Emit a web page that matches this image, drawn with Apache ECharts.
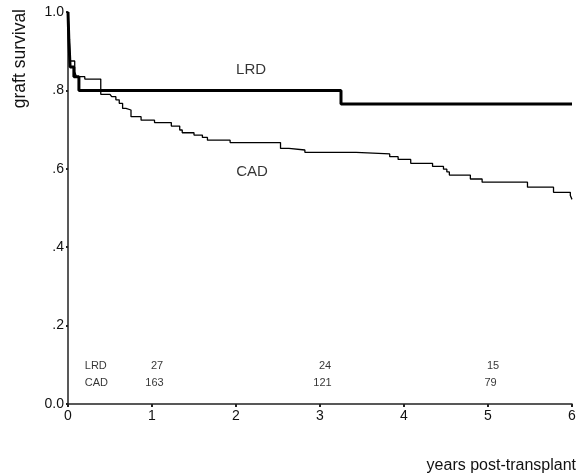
<!DOCTYPE html>
<html>
<head>
<meta charset="utf-8">
<script src="https://cdn.jsdelivr.net/npm/echarts@6/dist/echarts.min.js"></script>
<style>
html,body{margin:0;padding:0;background:#fff;}
#c{width:579px;height:475px;}
</style>
</head>
<body>
<div id="c"></div>
<script>
// Kaplan-Meier graft survival (year of event, survival after event)
var lrdCurve = [[0,1.0],[0.01,0.93],[0.025,0.86],[0.07,0.835],[0.13,0.80],[3.25,0.765],[6.0,0.765]];
var cadCurve = [[0,1.0],[0.015,0.93],[0.025,0.875],[0.08,0.848],[0.10,0.835],[0.2,0.829],[0.39,0.79],
  [0.5,0.788],[0.52,0.784],[0.57,0.776],[0.61,0.767],[0.65,0.754],[0.69,0.75],[0.75,0.733],
  [0.87,0.724],[1.03,0.718],[1.23,0.709],[1.33,0.699],[1.36,0.692],[1.50,0.686],[1.60,0.68],
  [1.66,0.673],[1.93,0.667],[2.53,0.652],[2.63,0.648],[2.82,0.642],[3.43,0.638],[3.83,0.631],
  [3.93,0.624],[4.08,0.614],[4.34,0.606],[4.47,0.599],[4.51,0.592],[4.54,0.584],[4.79,0.574],
  [4.93,0.566],[5.47,0.553],[5.78,0.54],[5.98,0.532],[6.0,0.522]];
var groups = ['LRD','CAD'];
var atRiskYears = [1,3,5];
var atRiskLRD = [27,24,15];
var atRiskCAD = [163,121,79];
var yTicks = ['0.0','.2','.4','.6','.8','1.0'];
var xTicks = ['0','1','2','3','4','5','6'];
var curveLabelPos = [[2.18,0.852],[2.19,0.593]];
var riskRowY = [0.097,0.054];
var riskRowLabelX = 0.2;

var font = 'Liberation Sans, Arial, sans-serif';
var chart = echarts.init(document.getElementById('c'));

function textSeries(data, size, align) {
  return {
    type:'scatter', symbolSize:0, silent:true, data:data,
    label:{show:true, position:'inside', formatter:function(p){return p.data.t;},
      color:'#000', fontFamily:font, fontSize:size, align:align||'center', verticalAlign:'middle'}
  };
}

var riskData = [];
riskData.push({value:[riskRowLabelX, riskRowY[0]], t:groups[0]});
riskData.push({value:[riskRowLabelX, riskRowY[1]], t:groups[1]});
var riskNums = [];
atRiskYears.forEach(function(y,i){
  riskNums.push({value:[y+0.06, riskRowY[0]], t:String(atRiskLRD[i])});
  riskNums.push({value:[y+0.03, riskRowY[1]], t:String(atRiskCAD[i])});
});
var curveLabels = groups.map(function(g,i){return {value:curveLabelPos[i], t:g};});

chart.setOption({
  animation:false,
  grid:{left:68, right:4, top:12, bottom:71},
  xAxis:{type:'value', min:0, max:6, interval:1,
    axisLine:{onZero:false, lineStyle:{color:'#222', width:1.5}},
    axisTick:{show:true, length:3, lineStyle:{color:'#222', width:2}},
    axisLabel:{color:'#111', fontSize:14, fontFamily:font, margin:5,
      formatter:function(v){return xTicks[Math.round(v)];}},
    splitLine:{show:false},
    name:'years post-transplant', nameLocation:'end', nameGap:4,
    nameTextStyle:{color:'#111', fontSize:16, fontFamily:font, align:'right', verticalAlign:'top', padding:[54,0,0,0]}
  },
  yAxis:{type:'value', min:0, max:1, interval:0.2,
    axisLine:{onZero:false, lineStyle:{color:'#222', width:1.5}},
    axisTick:{show:true, length:2, lineStyle:{color:'#222', width:2}},
    axisLabel:{color:'#111', fontSize:14, fontFamily:font, margin:4,
      formatter:function(v){return yTicks[Math.round(v*5)];}},
    splitLine:{show:false}
  },
  graphic:[{type:'text', left:11, top:9, rotation:Math.PI/2,
    style:{text:'graft survival', fill:'#111', font:'17.5px '+font}}],
  series:[
    {name:'CAD', type:'line', step:'end', data:cadCurve, showSymbol:false, symbol:'none',
      lineStyle:{color:'#000', width:1.3}},
    {name:'LRD', type:'line', step:'end', data:lrdCurve, showSymbol:false, symbol:'none',
      lineStyle:{color:'#000', width:3}},
    textSeries(curveLabels, 15),
    textSeries(riskData, 11, 'left'),
    textSeries(riskNums, 11)
  ]
});
</script>
</body>
</html>
